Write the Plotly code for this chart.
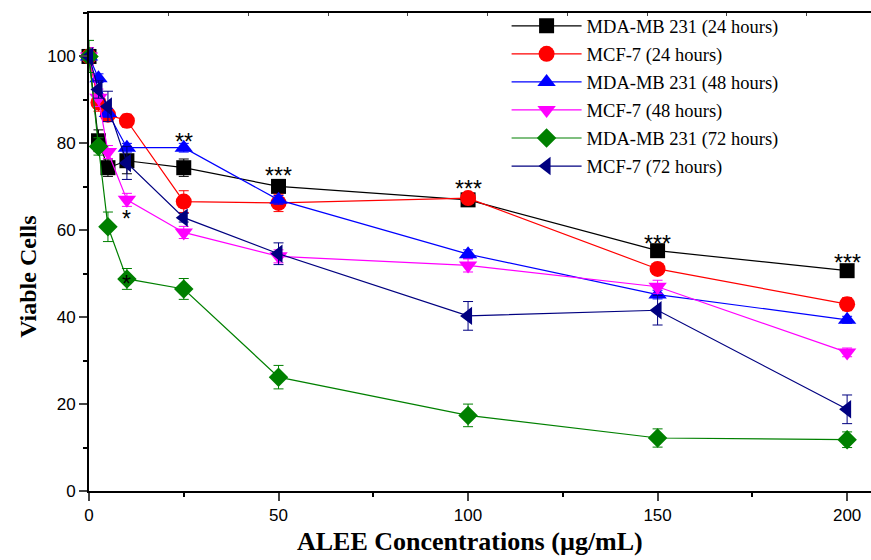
import plotly.graph_objects as go

conc = [0, 2.5, 5, 10, 25, 50, 100, 150, 200]

names = ["MDA-MB 231 (24 hours)", "MCF-7 (24 hours)", "MDA-MB 231 (48 hours)",
         "MCF-7 (48 hours)", "MDA-MB 231 (72 hours)", "MCF-7 (72 hours)"]

mda24 = [100, 80.6, 74.4, 76.0, 74.4, 70.1, 67.0, 55.3, 50.7]
mda24_err = [2.0, 2.5, 2.0, 3.0, 2.0, 1.5, 1.0, 1.2, 0.8]

mcf24 = [100, 89.4, 86.6, 85.2, 66.6, 66.3, 67.4, 51.1, 43.0]
mcf24_err = [1.5, 2.0, 1.5, 1.5, 2.5, 2.0, 1.0, 1.0, 1.5]

mda48 = [100, 95.0, 87.0, 79.0, 79.0, 67.0, 54.5, 45.2, 39.4]
mda48_err = [1.0, 1.0, 1.0, 1.0, 1.0, 1.0, 1.0, 1.0, 0.8]

mcf48 = [100, 90.5, 78.0, 67.0, 59.5, 54.0, 51.9, 47.0, 31.9]
mcf48_err = [2.0, 2.0, 1.5, 1.5, 1.4, 1.5, 1.5, 1.5, 1.0]

mda72 = [100, 79.3, 60.8, 48.8, 46.5, 26.2, 17.4, 12.2, 11.8]
mda72_err = [3.7, 2.0, 3.4, 2.4, 2.4, 2.7, 2.6, 2.1, 1.8]

mcf72 = [100, 92.4, 88.5, 75.5, 62.9, 54.6, 40.3, 41.6, 18.8]
mcf72_err = [1.5, 2.0, 3.5, 3.8, 1.0, 2.5, 3.3, 3.4, 3.3]

sig_x = [10, 10, 25, 50, 100, 150, 200]
sig_y = [64.3, 49.3, 82.0, 74.0, 71.0, 58.5, 54.0]
sig_text = ["*", "*", "**", "***", "***", "***", "***"]

x_ticks = [0, 50, 100, 150, 200]
y_ticks = [0, 20, 40, 60, 80, 100]

series = [mda24, mcf24, mda48, mcf48, mda72, mcf72]
errors = [mda24_err, mcf24_err, mda48_err, mcf48_err, mda72_err, mcf72_err]
colors = ["#000000", "#FF0000", "#0000FF", "#FF00FF", "#008000", "#000080"]
symbols = ["square", "circle", "triangle-up", "triangle-down", "diamond", "triangle-left"]
sizes = [15, 16, 16, 16, 15, 16]

fig = go.Figure()
for i in range(6):
    fig.add_trace(go.Scatter(
        x=conc, y=series[i], name=names[i], mode="lines+markers",
        line=dict(color=colors[i], width=1.2),
        marker=dict(symbol=symbols[i], size=sizes[i], color=colors[i]),
        error_y=dict(type="data", array=errors[i], color=colors[i], thickness=1, width=5),
        cliponaxis=False, legendgroup=str(i),
    ))

for xs, ys, t in zip(sig_x, sig_y, sig_text):
    fig.add_annotation(x=xs, y=ys, text=t, showarrow=False, yshift=-7,
                       font=dict(family="Liberation Sans, Arial", size=23, color="black"))

serif = "Liberation Serif, Times New Roman"
fig.add_annotation(xref="paper", yref="paper", x=0.487, y=-0.106, xanchor="center",
                   yanchor="middle", showarrow=False, text="ALEE Concentrations (µg/mL)",
                   font=dict(family=serif, size=26, weight="bold", color="black"))
fig.add_annotation(xref="paper", yref="paper", x=-0.078, y=0.448, xanchor="center",
                   yanchor="middle", showarrow=False, text="Viable Cells", textangle=-90,
                   font=dict(family=serif, size=24, weight="bold", color="black"))

# top axis (ticks only)
fig.add_trace(go.Scatter(x=[None], y=[None], xaxis="x2", showlegend=False, hoverinfo="skip"))

tickfont = dict(family="Liberation Sans, Arial", size=17, color="black")
fig.update_layout(
    width=871, height=560,
    margin=dict(l=89, r=0, t=13, b=69),
    paper_bgcolor="white", plot_bgcolor="white",
    showlegend=True,
    legend=dict(x=0.534, y=1.012, xanchor="left", yanchor="top",
                font=dict(family=serif, size=18.5, color="black"),
                itemwidth=70, tracegroupgap=1, bgcolor="rgba(255,255,255,0)",
                traceorder="grouped"),
    xaxis=dict(range=[0, 206.3], tickvals=x_ticks, ticks="outside", ticklen=8, tickwidth=1.5,
               showline=True, linewidth=2, linecolor="black", showgrid=False, zeroline=False,
               tickfont=tickfont,
               minor=dict(dtick=25, tick0=0, ticks="outside", ticklen=4, tickcolor="black")),
    xaxis2=dict(range=[0, 206.3], overlaying="x", side="top", showline=True, linewidth=2,
                linecolor="black", ticks="inside", ticklen=3, dtick=21.03, tick0=0,
                showticklabels=False, showgrid=False, zeroline=False),
    yaxis=dict(range=[0, 110], tickvals=y_ticks, ticks="outside", ticklen=8, tickwidth=1.5,
               showline=True, linewidth=2, linecolor="black", showgrid=False, zeroline=False,
               tickfont=tickfont,
               minor=dict(dtick=10, tick0=0, ticks="outside", ticklen=4, tickcolor="black")),
)

fig.write_html("out.html")
